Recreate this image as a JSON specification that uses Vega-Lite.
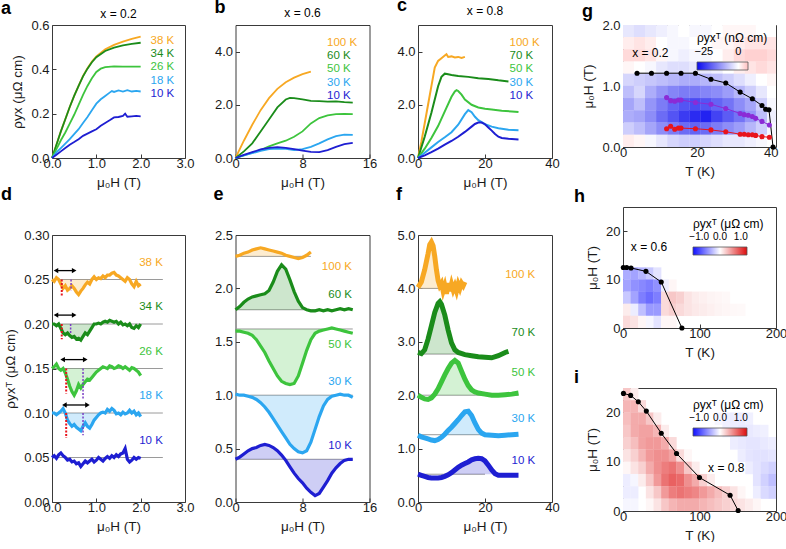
{
"$schema": "https://vega.github.io/schema/vega-lite/v6.json",
"background": "white",
"padding": {"left": 0, "top": -4, "right": 0, "bottom": 0},
"autosize": {"type": "pad"},
"config": {
 "font": "Liberation Sans",
 "view": {"stroke": "#3a3a3a", "strokeWidth": 1},
 "axis": {"domain": false, "grid": false, "tickColor": "#3a3a3a", "tickSize": -4, "labelPadding": 7, "labelFontSize": 13, "titleFontSize": 13.5, "titleFontWeight": "normal", "labelColor": "#1a1a1a", "titleColor": "#1a1a1a", "labelFlush": false, "labelOverlap": false, "labelBound": false, "titlePadding": 6},
 "axisX": {"labelPadding": 3, "titlePadding": 5},
 "legend": {"labelFont": "Liberation Sans", "titleFont": "Liberation Sans", "labelOverlap": false},
 "title": {"font": "Liberation Sans"},
 "text": {"font": "Liberation Sans"}
},
"datasets": {
 "ca": [
  {"T":"38 K","H":0,"v":0},{"T":"38 K","H":0.1,"v":0.06},{"T":"38 K","H":0.2,"v":0.12},{"T":"38 K","H":0.3,"v":0.175},{"T":"38 K","H":0.4,"v":0.23},{"T":"38 K","H":0.5,"v":0.28},{"T":"38 K","H":0.6,"v":0.325},{"T":"38 K","H":0.7,"v":0.37},{"T":"38 K","H":0.8,"v":0.405},{"T":"38 K","H":0.9,"v":0.435},{"T":"38 K","H":1.0,"v":0.458},{"T":"38 K","H":1.2,"v":0.49},{"T":"38 K","H":1.4,"v":0.51},{"T":"38 K","H":1.6,"v":0.525},{"T":"38 K","H":1.8,"v":0.537},{"T":"38 K","H":2.0,"v":0.547},
  {"T":"34 K","H":0,"v":0},{"T":"34 K","H":0.1,"v":0.06},{"T":"34 K","H":0.2,"v":0.12},{"T":"34 K","H":0.3,"v":0.175},{"T":"34 K","H":0.4,"v":0.23},{"T":"34 K","H":0.5,"v":0.28},{"T":"34 K","H":0.6,"v":0.325},{"T":"34 K","H":0.7,"v":0.368},{"T":"34 K","H":0.8,"v":0.403},{"T":"34 K","H":0.9,"v":0.432},{"T":"34 K","H":1.0,"v":0.455},{"T":"34 K","H":1.2,"v":0.483},{"T":"34 K","H":1.4,"v":0.498},{"T":"34 K","H":1.6,"v":0.508},{"T":"34 K","H":1.8,"v":0.515},{"T":"34 K","H":2.0,"v":0.52},
  {"T":"26 K","H":0,"v":0},{"T":"26 K","H":0.1,"v":0.04},{"T":"26 K","H":0.2,"v":0.08},{"T":"26 K","H":0.3,"v":0.115},{"T":"26 K","H":0.4,"v":0.155},{"T":"26 K","H":0.5,"v":0.195},{"T":"26 K","H":0.6,"v":0.24},{"T":"26 K","H":0.7,"v":0.285},{"T":"26 K","H":0.8,"v":0.325},{"T":"26 K","H":0.9,"v":0.36},{"T":"26 K","H":1.0,"v":0.388},{"T":"26 K","H":1.1,"v":0.403},{"T":"26 K","H":1.2,"v":0.41},{"T":"26 K","H":1.4,"v":0.413},{"T":"26 K","H":1.6,"v":0.412},{"T":"26 K","H":1.8,"v":0.412},{"T":"26 K","H":2.0,"v":0.412},
  {"T":"18 K","H":0,"v":0},{"T":"18 K","H":0.1,"v":0.025},{"T":"18 K","H":0.2,"v":0.045},{"T":"18 K","H":0.3,"v":0.065},{"T":"18 K","H":0.4,"v":0.085},{"T":"18 K","H":0.5,"v":0.108},{"T":"18 K","H":0.6,"v":0.13},{"T":"18 K","H":0.7,"v":0.158},{"T":"18 K","H":0.8,"v":0.185},{"T":"18 K","H":0.9,"v":0.215},{"T":"18 K","H":1.0,"v":0.245},{"T":"18 K","H":1.1,"v":0.265},{"T":"18 K","H":1.2,"v":0.28},{"T":"18 K","H":1.3,"v":0.295},{"T":"18 K","H":1.35,"v":0.302},{"T":"18 K","H":1.4,"v":0.298},{"T":"18 K","H":1.5,"v":0.305},{"T":"18 K","H":1.6,"v":0.3},{"T":"18 K","H":1.7,"v":0.306},{"T":"18 K","H":1.8,"v":0.3},{"T":"18 K","H":1.9,"v":0.303},{"T":"18 K","H":2.0,"v":0.3},
  {"T":"10 K","H":0,"v":0},{"T":"10 K","H":0.1,"v":0.015},{"T":"10 K","H":0.2,"v":0.03},{"T":"10 K","H":0.3,"v":0.045},{"T":"10 K","H":0.4,"v":0.06},{"T":"10 K","H":0.5,"v":0.072},{"T":"10 K","H":0.6,"v":0.085},{"T":"10 K","H":0.7,"v":0.1},{"T":"10 K","H":0.8,"v":0.11},{"T":"10 K","H":0.9,"v":0.12},{"T":"10 K","H":1.0,"v":0.13},{"T":"10 K","H":1.1,"v":0.145},{"T":"10 K","H":1.2,"v":0.158},{"T":"10 K","H":1.3,"v":0.17},{"T":"10 K","H":1.4,"v":0.183},{"T":"10 K","H":1.5,"v":0.185},{"T":"10 K","H":1.6,"v":0.19},{"T":"10 K","H":1.65,"v":0.2},{"T":"10 K","H":1.7,"v":0.186},{"T":"10 K","H":1.8,"v":0.188},{"T":"10 K","H":1.9,"v":0.19},{"T":"10 K","H":2.0,"v":0.188}
 ],
 "cb": [
  {"T":"100 K","H":0,"v":0},{"T":"100 K","H":1,"v":0.65},{"T":"100 K","H":2,"v":1.25},{"T":"100 K","H":3,"v":1.8},{"T":"100 K","H":4,"v":2.25},{"T":"100 K","H":5,"v":2.6},{"T":"100 K","H":6,"v":2.85},{"T":"100 K","H":7,"v":3.02},{"T":"100 K","H":8,"v":3.15},{"T":"100 K","H":9,"v":3.25},
  {"T":"60 K","H":0,"v":0},{"T":"60 K","H":1,"v":0.25},{"T":"60 K","H":2,"v":0.55},{"T":"60 K","H":3,"v":1.0},{"T":"60 K","H":4,"v":1.45},{"T":"60 K","H":5,"v":1.9},{"T":"60 K","H":6,"v":2.2},{"T":"60 K","H":6.5,"v":2.26},{"T":"60 K","H":7,"v":2.25},{"T":"60 K","H":8,"v":2.2},{"T":"60 K","H":9,"v":2.15},{"T":"60 K","H":10,"v":2.14},{"T":"60 K","H":11,"v":2.12},{"T":"60 K","H":12,"v":2.13},{"T":"60 K","H":13,"v":2.1},{"T":"60 K","H":14,"v":2.08},
  {"T":"50 K","H":0,"v":0},{"T":"50 K","H":1,"v":0.1},{"T":"50 K","H":2,"v":0.2},{"T":"50 K","H":3,"v":0.3},{"T":"50 K","H":4,"v":0.44},{"T":"50 K","H":5,"v":0.55},{"T":"50 K","H":6,"v":0.65},{"T":"50 K","H":7,"v":0.8},{"T":"50 K","H":8,"v":1.0},{"T":"50 K","H":9,"v":1.3},{"T":"50 K","H":10,"v":1.5},{"T":"50 K","H":11,"v":1.6},{"T":"50 K","H":12,"v":1.65},{"T":"50 K","H":13,"v":1.66},{"T":"50 K","H":14,"v":1.65},
  {"T":"30 K","H":0,"v":0},{"T":"30 K","H":1,"v":0.1},{"T":"30 K","H":2,"v":0.18},{"T":"30 K","H":3,"v":0.27},{"T":"30 K","H":4,"v":0.33},{"T":"30 K","H":5,"v":0.35},{"T":"30 K","H":6,"v":0.34},{"T":"30 K","H":7,"v":0.3},{"T":"30 K","H":8,"v":0.33},{"T":"30 K","H":9,"v":0.42},{"T":"30 K","H":10,"v":0.55},{"T":"30 K","H":11,"v":0.7},{"T":"30 K","H":12,"v":0.82},{"T":"30 K","H":13,"v":0.88},{"T":"30 K","H":14,"v":0.87},
  {"T":"10 K","H":0,"v":0},{"T":"10 K","H":1,"v":0.12},{"T":"10 K","H":2,"v":0.22},{"T":"10 K","H":3,"v":0.32},{"T":"10 K","H":4,"v":0.38},{"T":"10 K","H":5,"v":0.41},{"T":"10 K","H":6,"v":0.38},{"T":"10 K","H":7,"v":0.33},{"T":"10 K","H":8,"v":0.28},{"T":"10 K","H":9,"v":0.23},{"T":"10 K","H":10,"v":0.22},{"T":"10 K","H":11,"v":0.3},{"T":"10 K","H":12,"v":0.42},{"T":"10 K","H":13,"v":0.52},{"T":"10 K","H":14,"v":0.57}
 ],
 "cc": [
  {"T":"100 K","H":0,"v":0},{"T":"100 K","H":1,"v":0.6},{"T":"100 K","H":2,"v":1.3},{"T":"100 K","H":3,"v":2.0},{"T":"100 K","H":4,"v":2.7},{"T":"100 K","H":5,"v":3.4},{"T":"100 K","H":6,"v":3.65},{"T":"100 K","H":7,"v":3.75},{"T":"100 K","H":8,"v":3.85},{"T":"100 K","H":8.5,"v":3.9},{"T":"100 K","H":9,"v":3.8},{"T":"100 K","H":10,"v":3.82},{"T":"100 K","H":11,"v":3.78},{"T":"100 K","H":12,"v":3.8},{"T":"100 K","H":13,"v":3.76},{"T":"100 K","H":14,"v":3.8},
  {"T":"70 K","H":0,"v":0},{"T":"70 K","H":2,"v":0.8},{"T":"70 K","H":4,"v":1.7},{"T":"70 K","H":6,"v":2.7},{"T":"70 K","H":7,"v":3.05},{"T":"70 K","H":8,"v":3.17},{"T":"70 K","H":9,"v":3.15},{"T":"70 K","H":10,"v":3.12},{"T":"70 K","H":12,"v":3.08},{"T":"70 K","H":15,"v":3.05},{"T":"70 K","H":18,"v":3.0},{"T":"70 K","H":21,"v":2.97},{"T":"70 K","H":24,"v":2.92},{"T":"70 K","H":27,"v":2.88},
  {"T":"50 K","H":0,"v":0},{"T":"50 K","H":2,"v":0.35},{"T":"50 K","H":4,"v":0.75},{"T":"50 K","H":6,"v":1.2},{"T":"50 K","H":8,"v":1.75},{"T":"50 K","H":10,"v":2.3},{"T":"50 K","H":11,"v":2.5},{"T":"50 K","H":11.5,"v":2.55},{"T":"50 K","H":12,"v":2.52},{"T":"50 K","H":13,"v":2.38},{"T":"50 K","H":14,"v":2.2},{"T":"50 K","H":16,"v":2.0},{"T":"50 K","H":18,"v":1.9},{"T":"50 K","H":20,"v":1.85},{"T":"50 K","H":22,"v":1.82},{"T":"50 K","H":25,"v":1.78},{"T":"50 K","H":28,"v":1.75},{"T":"50 K","H":30,"v":1.73},
  {"T":"30 K","H":0,"v":0},{"T":"30 K","H":2,"v":0.2},{"T":"30 K","H":4,"v":0.4},{"T":"30 K","H":6,"v":0.6},{"T":"30 K","H":8,"v":0.78},{"T":"30 K","H":10,"v":0.97},{"T":"30 K","H":12,"v":1.25},{"T":"30 K","H":14,"v":1.65},{"T":"30 K","H":15,"v":1.8},{"T":"30 K","H":16,"v":1.72},{"T":"30 K","H":17,"v":1.55},{"T":"30 K","H":18,"v":1.42},{"T":"30 K","H":20,"v":1.27},{"T":"30 K","H":22,"v":1.18},{"T":"30 K","H":24,"v":1.12},{"T":"30 K","H":27,"v":1.06},{"T":"30 K","H":30,"v":1.04},
  {"T":"10 K","H":0,"v":0},{"T":"10 K","H":2,"v":0.1},{"T":"10 K","H":4,"v":0.22},{"T":"10 K","H":6,"v":0.35},{"T":"10 K","H":8,"v":0.5},{"T":"10 K","H":10,"v":0.64},{"T":"10 K","H":12,"v":0.8},{"T":"10 K","H":14,"v":0.98},{"T":"10 K","H":16,"v":1.18},{"T":"10 K","H":17,"v":1.28},{"T":"10 K","H":18,"v":1.33},{"T":"10 K","H":19,"v":1.33},{"T":"10 K","H":20,"v":1.27},{"T":"10 K","H":21,"v":1.15},{"T":"10 K","H":22,"v":1.03},{"T":"10 K","H":23,"v":0.9},{"T":"10 K","H":24,"v":0.8},{"T":"10 K","H":25,"v":0.75},{"T":"10 K","H":27,"v":0.72},{"T":"10 K","H":30,"v":0.7}
 ],
 "cd": [
  {"T":"38 K","H":0,"v":0.25},{"T":"38 K","H":0.05,"v":0.248},{"T":"38 K","H":0.1,"v":0.252},{"T":"38 K","H":0.15,"v":0.25},{"T":"38 K","H":0.2,"v":0.245},{"T":"38 K","H":0.25,"v":0.24},{"T":"38 K","H":0.3,"v":0.243},{"T":"38 K","H":0.35,"v":0.238},{"T":"38 K","H":0.4,"v":0.24},{"T":"38 K","H":0.45,"v":0.243},{"T":"38 K","H":0.5,"v":0.24},{"T":"38 K","H":0.55,"v":0.236},{"T":"38 K","H":0.6,"v":0.233},{"T":"38 K","H":0.65,"v":0.237},{"T":"38 K","H":0.7,"v":0.24},{"T":"38 K","H":0.75,"v":0.244},{"T":"38 K","H":0.8,"v":0.247},{"T":"38 K","H":0.85,"v":0.245},{"T":"38 K","H":0.9,"v":0.25},{"T":"38 K","H":0.95,"v":0.253},{"T":"38 K","H":1.0,"v":0.25},{"T":"38 K","H":1.05,"v":0.252},{"T":"38 K","H":1.1,"v":0.251},{"T":"38 K","H":1.15,"v":0.254},{"T":"38 K","H":1.2,"v":0.252},{"T":"38 K","H":1.25,"v":0.255},{"T":"38 K","H":1.3,"v":0.255},{"T":"38 K","H":1.35,"v":0.257},{"T":"38 K","H":1.4,"v":0.258},{"T":"38 K","H":1.45,"v":0.255},{"T":"38 K","H":1.5,"v":0.254},{"T":"38 K","H":1.55,"v":0.252},{"T":"38 K","H":1.6,"v":0.25},{"T":"38 K","H":1.65,"v":0.248},{"T":"38 K","H":1.7,"v":0.252},{"T":"38 K","H":1.75,"v":0.25},{"T":"38 K","H":1.8,"v":0.245},{"T":"38 K","H":1.85,"v":0.242},{"T":"38 K","H":1.9,"v":0.248},{"T":"38 K","H":1.95,"v":0.243},{"T":"38 K","H":2.0,"v":0.245},
  {"T":"34 K","H":0,"v":0.2},{"T":"34 K","H":0.05,"v":0.2},{"T":"34 K","H":0.1,"v":0.198},{"T":"34 K","H":0.15,"v":0.2},{"T":"34 K","H":0.2,"v":0.195},{"T":"34 K","H":0.25,"v":0.19},{"T":"34 K","H":0.3,"v":0.188},{"T":"34 K","H":0.35,"v":0.19},{"T":"34 K","H":0.4,"v":0.187},{"T":"34 K","H":0.45,"v":0.185},{"T":"34 K","H":0.5,"v":0.186},{"T":"34 K","H":0.55,"v":0.183},{"T":"34 K","H":0.6,"v":0.184},{"T":"34 K","H":0.65,"v":0.182},{"T":"34 K","H":0.7,"v":0.186},{"T":"34 K","H":0.75,"v":0.19},{"T":"34 K","H":0.8,"v":0.188},{"T":"34 K","H":0.85,"v":0.192},{"T":"34 K","H":0.9,"v":0.196},{"T":"34 K","H":0.95,"v":0.2},{"T":"34 K","H":1.0,"v":0.2},{"T":"34 K","H":1.05,"v":0.201},{"T":"34 K","H":1.1,"v":0.2},{"T":"34 K","H":1.15,"v":0.202},{"T":"34 K","H":1.2,"v":0.203},{"T":"34 K","H":1.25,"v":0.202},{"T":"34 K","H":1.3,"v":0.204},{"T":"34 K","H":1.35,"v":0.203},{"T":"34 K","H":1.4,"v":0.202},{"T":"34 K","H":1.45,"v":0.203},{"T":"34 K","H":1.5,"v":0.2},{"T":"34 K","H":1.55,"v":0.202},{"T":"34 K","H":1.6,"v":0.199},{"T":"34 K","H":1.65,"v":0.2},{"T":"34 K","H":1.7,"v":0.198},{"T":"34 K","H":1.75,"v":0.2},{"T":"34 K","H":1.8,"v":0.196},{"T":"34 K","H":1.85,"v":0.195},{"T":"34 K","H":1.9,"v":0.198},{"T":"34 K","H":1.95,"v":0.196},{"T":"34 K","H":2.0,"v":0.2},
  {"T":"26 K","H":0,"v":0.15},{"T":"26 K","H":0.05,"v":0.152},{"T":"26 K","H":0.1,"v":0.155},{"T":"26 K","H":0.15,"v":0.15},{"T":"26 K","H":0.2,"v":0.148},{"T":"26 K","H":0.25,"v":0.15},{"T":"26 K","H":0.3,"v":0.145},{"T":"26 K","H":0.35,"v":0.138},{"T":"26 K","H":0.4,"v":0.13},{"T":"26 K","H":0.45,"v":0.124},{"T":"26 K","H":0.5,"v":0.12},{"T":"26 K","H":0.55,"v":0.125},{"T":"26 K","H":0.6,"v":0.132},{"T":"26 K","H":0.65,"v":0.128},{"T":"26 K","H":0.7,"v":0.132},{"T":"26 K","H":0.75,"v":0.135},{"T":"26 K","H":0.8,"v":0.138},{"T":"26 K","H":0.85,"v":0.137},{"T":"26 K","H":0.9,"v":0.14},{"T":"26 K","H":0.95,"v":0.143},{"T":"26 K","H":1.0,"v":0.146},{"T":"26 K","H":1.05,"v":0.148},{"T":"26 K","H":1.1,"v":0.15},{"T":"26 K","H":1.15,"v":0.152},{"T":"26 K","H":1.2,"v":0.151},{"T":"26 K","H":1.25,"v":0.15},{"T":"26 K","H":1.3,"v":0.153},{"T":"26 K","H":1.35,"v":0.152},{"T":"26 K","H":1.4,"v":0.15},{"T":"26 K","H":1.45,"v":0.151},{"T":"26 K","H":1.5,"v":0.153},{"T":"26 K","H":1.55,"v":0.152},{"T":"26 K","H":1.6,"v":0.15},{"T":"26 K","H":1.65,"v":0.152},{"T":"26 K","H":1.7,"v":0.15},{"T":"26 K","H":1.75,"v":0.148},{"T":"26 K","H":1.8,"v":0.151},{"T":"26 K","H":1.85,"v":0.15},{"T":"26 K","H":1.9,"v":0.148},{"T":"26 K","H":1.95,"v":0.146},{"T":"26 K","H":2.0,"v":0.142},
  {"T":"18 K","H":0,"v":0.1},{"T":"18 K","H":0.05,"v":0.1},{"T":"18 K","H":0.1,"v":0.098},{"T":"18 K","H":0.15,"v":0.1},{"T":"18 K","H":0.2,"v":0.102},{"T":"18 K","H":0.25,"v":0.105},{"T":"18 K","H":0.3,"v":0.1},{"T":"18 K","H":0.35,"v":0.092},{"T":"18 K","H":0.4,"v":0.088},{"T":"18 K","H":0.45,"v":0.085},{"T":"18 K","H":0.5,"v":0.087},{"T":"18 K","H":0.55,"v":0.084},{"T":"18 K","H":0.6,"v":0.082},{"T":"18 K","H":0.65,"v":0.08},{"T":"18 K","H":0.7,"v":0.085},{"T":"18 K","H":0.75,"v":0.089},{"T":"18 K","H":0.8,"v":0.085},{"T":"18 K","H":0.85,"v":0.083},{"T":"18 K","H":0.9,"v":0.087},{"T":"18 K","H":0.95,"v":0.092},{"T":"18 K","H":1.0,"v":0.095},{"T":"18 K","H":1.05,"v":0.098},{"T":"18 K","H":1.1,"v":0.1},{"T":"18 K","H":1.15,"v":0.101},{"T":"18 K","H":1.2,"v":0.1},{"T":"18 K","H":1.25,"v":0.104},{"T":"18 K","H":1.3,"v":0.102},{"T":"18 K","H":1.35,"v":0.105},{"T":"18 K","H":1.4,"v":0.103},{"T":"18 K","H":1.45,"v":0.099},{"T":"18 K","H":1.5,"v":0.1},{"T":"18 K","H":1.55,"v":0.098},{"T":"18 K","H":1.6,"v":0.101},{"T":"18 K","H":1.65,"v":0.099},{"T":"18 K","H":1.7,"v":0.1},{"T":"18 K","H":1.75,"v":0.103},{"T":"18 K","H":1.8,"v":0.1},{"T":"18 K","H":1.85,"v":0.102},{"T":"18 K","H":1.9,"v":0.098},{"T":"18 K","H":1.95,"v":0.1},{"T":"18 K","H":2.0,"v":0.096},
  {"T":"10 K","H":0,"v":0.05},{"T":"10 K","H":0.05,"v":0.052},{"T":"10 K","H":0.1,"v":0.049},{"T":"10 K","H":0.15,"v":0.053},{"T":"10 K","H":0.2,"v":0.055},{"T":"10 K","H":0.25,"v":0.052},{"T":"10 K","H":0.3,"v":0.05},{"T":"10 K","H":0.35,"v":0.047},{"T":"10 K","H":0.4,"v":0.048},{"T":"10 K","H":0.45,"v":0.045},{"T":"10 K","H":0.5,"v":0.046},{"T":"10 K","H":0.55,"v":0.043},{"T":"10 K","H":0.6,"v":0.044},{"T":"10 K","H":0.65,"v":0.04},{"T":"10 K","H":0.7,"v":0.043},{"T":"10 K","H":0.75,"v":0.046},{"T":"10 K","H":0.8,"v":0.044},{"T":"10 K","H":0.85,"v":0.046},{"T":"10 K","H":0.9,"v":0.048},{"T":"10 K","H":0.95,"v":0.045},{"T":"10 K","H":1.0,"v":0.047},{"T":"10 K","H":1.05,"v":0.05},{"T":"10 K","H":1.1,"v":0.048},{"T":"10 K","H":1.15,"v":0.046},{"T":"10 K","H":1.2,"v":0.049},{"T":"10 K","H":1.25,"v":0.051},{"T":"10 K","H":1.3,"v":0.049},{"T":"10 K","H":1.35,"v":0.052},{"T":"10 K","H":1.4,"v":0.05},{"T":"10 K","H":1.45,"v":0.053},{"T":"10 K","H":1.5,"v":0.051},{"T":"10 K","H":1.55,"v":0.054},{"T":"10 K","H":1.6,"v":0.055},{"T":"10 K","H":1.65,"v":0.06},{"T":"10 K","H":1.7,"v":0.048},{"T":"10 K","H":1.75,"v":0.045},{"T":"10 K","H":1.8,"v":0.047},{"T":"10 K","H":1.85,"v":0.05},{"T":"10 K","H":1.9,"v":0.048},{"T":"10 K","H":1.95,"v":0.05},{"T":"10 K","H":2.0,"v":0.049}
 ],
 "bd": [
  {"T":"38 K","base":0.25,"start":0,"end":2.5,"s0":0.2,"s1":0.9},
  {"T":"34 K","base":0.2,"start":0,"end":2.5,"s0":0.2,"s1":0.95},
  {"T":"26 K","base":0.15,"start":0,"end":2.5,"s0":0.3,"s1":1.1},
  {"T":"18 K","base":0.1,"start":0,"end":2.5,"s0":0.3,"s1":1.1},
  {"T":"10 K","base":0.05,"start":0,"end":2.5,"s0":-1,"s1":-1}
 ],
 "md": [
  {"H":0.22,"y1":0.25,"y2":0.232,"k":"r"},{"H":0.43,"y1":0.25,"y2":0.238,"k":"p"},
  {"H":0.22,"y1":0.2,"y2":0.183,"k":"r"},{"H":0.42,"y1":0.2,"y2":0.19,"k":"p"},
  {"H":0.32,"y1":0.15,"y2":0.122,"k":"r"},{"H":0.7,"y1":0.15,"y2":0.115,"k":"p"},
  {"H":0.32,"y1":0.1,"y2":0.072,"k":"r"},{"H":0.7,"y1":0.1,"y2":0.075,"k":"p"}
 ],
 "ad": [
  {"a0":0.09,"a1":0.5,"y":0.26},{"a0":0.09,"a1":0.5,"y":0.21},{"a0":0.24,"a1":0.75,"y":0.16},{"a0":0.28,"a1":0.8,"y":0.109}
 ],
 "ce": [
  {"T":"100 K","H":0,"v":2.3},{"T":"100 K","H":0.5,"v":2.31},{"T":"100 K","H":1,"v":2.33},{"T":"100 K","H":1.5,"v":2.34},{"T":"100 K","H":2,"v":2.36},{"T":"100 K","H":2.5,"v":2.37},{"T":"100 K","H":3,"v":2.38},{"T":"100 K","H":3.5,"v":2.37},{"T":"100 K","H":4,"v":2.36},{"T":"100 K","H":4.5,"v":2.35},{"T":"100 K","H":5,"v":2.34},{"T":"100 K","H":5.5,"v":2.33},{"T":"100 K","H":6,"v":2.31},{"T":"100 K","H":6.5,"v":2.3},{"T":"100 K","H":7,"v":2.29},{"T":"100 K","H":7.5,"v":2.28},{"T":"100 K","H":8,"v":2.29},{"T":"100 K","H":8.5,"v":2.31},{"T":"100 K","H":9,"v":2.34},
  {"T":"60 K","H":0,"v":1.8},{"T":"60 K","H":0.5,"v":1.83},{"T":"60 K","H":1,"v":1.87},{"T":"60 K","H":1.5,"v":1.9},{"T":"60 K","H":2,"v":1.92},{"T":"60 K","H":2.5,"v":1.93},{"T":"60 K","H":3,"v":1.94},{"T":"60 K","H":3.5,"v":1.95},{"T":"60 K","H":4,"v":1.98},{"T":"60 K","H":4.5,"v":2.06},{"T":"60 K","H":5,"v":2.16},{"T":"60 K","H":5.5,"v":2.22},{"T":"60 K","H":6,"v":2.18},{"T":"60 K","H":6.5,"v":2.08},{"T":"60 K","H":7,"v":1.97},{"T":"60 K","H":7.5,"v":1.88},{"T":"60 K","H":8,"v":1.82},{"T":"60 K","H":8.5,"v":1.8},{"T":"60 K","H":9,"v":1.79},{"T":"60 K","H":9.5,"v":1.79},{"T":"60 K","H":10,"v":1.8},{"T":"60 K","H":10.5,"v":1.79},{"T":"60 K","H":11,"v":1.8},{"T":"60 K","H":11.5,"v":1.79},{"T":"60 K","H":12,"v":1.8},{"T":"60 K","H":12.5,"v":1.81},{"T":"60 K","H":13,"v":1.8},{"T":"60 K","H":13.5,"v":1.81},{"T":"60 K","H":14,"v":1.8},
  {"T":"50 K","H":0,"v":1.6},{"T":"50 K","H":0.5,"v":1.6},{"T":"50 K","H":1,"v":1.59},{"T":"50 K","H":1.5,"v":1.58},{"T":"50 K","H":2,"v":1.56},{"T":"50 K","H":2.5,"v":1.52},{"T":"50 K","H":3,"v":1.46},{"T":"50 K","H":3.5,"v":1.4},{"T":"50 K","H":4,"v":1.32},{"T":"50 K","H":4.5,"v":1.25},{"T":"50 K","H":5,"v":1.18},{"T":"50 K","H":5.5,"v":1.13},{"T":"50 K","H":6,"v":1.11},{"T":"50 K","H":6.5,"v":1.1},{"T":"50 K","H":7,"v":1.11},{"T":"50 K","H":7.5,"v":1.18},{"T":"50 K","H":8,"v":1.3},{"T":"50 K","H":8.5,"v":1.42},{"T":"50 K","H":9,"v":1.52},{"T":"50 K","H":9.5,"v":1.58},{"T":"50 K","H":10,"v":1.6},{"T":"50 K","H":10.5,"v":1.61},{"T":"50 K","H":11,"v":1.62},{"T":"50 K","H":11.5,"v":1.63},{"T":"50 K","H":12,"v":1.62},{"T":"50 K","H":12.5,"v":1.61},{"T":"50 K","H":13,"v":1.6},{"T":"50 K","H":13.5,"v":1.59},{"T":"50 K","H":14,"v":1.58},
  {"T":"30 K","H":0,"v":1.01},{"T":"30 K","H":0.5,"v":1.0},{"T":"30 K","H":1,"v":1.0},{"T":"30 K","H":1.5,"v":0.99},{"T":"30 K","H":2,"v":0.98},{"T":"30 K","H":2.5,"v":0.96},{"T":"30 K","H":3,"v":0.93},{"T":"30 K","H":3.5,"v":0.89},{"T":"30 K","H":4,"v":0.84},{"T":"30 K","H":4.5,"v":0.78},{"T":"30 K","H":5,"v":0.72},{"T":"30 K","H":5.5,"v":0.66},{"T":"30 K","H":6,"v":0.6},{"T":"30 K","H":6.5,"v":0.54},{"T":"30 K","H":7,"v":0.5},{"T":"30 K","H":7.5,"v":0.47},{"T":"30 K","H":8,"v":0.46},{"T":"30 K","H":8.5,"v":0.48},{"T":"30 K","H":9,"v":0.56},{"T":"30 K","H":9.5,"v":0.68},{"T":"30 K","H":10,"v":0.8},{"T":"30 K","H":10.5,"v":0.9},{"T":"30 K","H":11,"v":0.96},{"T":"30 K","H":11.5,"v":0.99},{"T":"30 K","H":12,"v":1.0},{"T":"30 K","H":12.5,"v":1.01},{"T":"30 K","H":13,"v":1.0},{"T":"30 K","H":13.5,"v":1.0},{"T":"30 K","H":14,"v":0.98},
  {"T":"10 K","H":0,"v":0.4},{"T":"10 K","H":0.5,"v":0.42},{"T":"10 K","H":1,"v":0.45},{"T":"10 K","H":1.5,"v":0.48},{"T":"10 K","H":2,"v":0.5},{"T":"10 K","H":2.5,"v":0.51},{"T":"10 K","H":3,"v":0.53},{"T":"10 K","H":3.5,"v":0.54},{"T":"10 K","H":4,"v":0.53},{"T":"10 K","H":4.5,"v":0.51},{"T":"10 K","H":5,"v":0.48},{"T":"10 K","H":5.5,"v":0.44},{"T":"10 K","H":6,"v":0.39},{"T":"10 K","H":6.5,"v":0.33},{"T":"10 K","H":7,"v":0.27},{"T":"10 K","H":7.5,"v":0.22},{"T":"10 K","H":8,"v":0.18},{"T":"10 K","H":8.5,"v":0.13},{"T":"10 K","H":9,"v":0.09},{"T":"10 K","H":9.5,"v":0.06},{"T":"10 K","H":10,"v":0.08},{"T":"10 K","H":10.5,"v":0.14},{"T":"10 K","H":11,"v":0.2},{"T":"10 K","H":11.5,"v":0.27},{"T":"10 K","H":12,"v":0.32},{"T":"10 K","H":12.5,"v":0.36},{"T":"10 K","H":13,"v":0.39},{"T":"10 K","H":13.5,"v":0.4},{"T":"10 K","H":14,"v":0.4}
 ],
 "be": [
  {"T":"100 K","base":2.3,"start":0,"end":9,"s0":0,"s1":6.5,"lx":13.9,"ly":2.2},
  {"T":"60 K","base":1.8,"start":0,"end":9.5,"s0":0,"s1":8.5,"lx":13.9,"ly":1.94},
  {"T":"50 K","base":1.62,"start":0,"end":14,"s0":0,"s1":10,"lx":13.9,"ly":1.47},
  {"T":"30 K","base":1.0,"start":0,"end":14,"s0":0,"s1":12.5,"lx":13.9,"ly":1.12},
  {"T":"10 K","base":0.4,"start":0,"end":14,"s0":0,"s1":14,"lx":13.9,"ly":0.52}
 ],
 "cf": [
  {"T":"100 K","H":0,"v":4.02},{"T":"100 K","H":1,"v":4.12},{"T":"100 K","H":2,"v":4.35},{"T":"100 K","H":3,"v":4.65},{"T":"100 K","H":3.5,"v":4.82},{"T":"100 K","H":4,"v":4.87},{"T":"100 K","H":4.5,"v":4.8},{"T":"100 K","H":5,"v":4.6},{"T":"100 K","H":5.5,"v":4.35},{"T":"100 K","H":6,"v":4.15},{"T":"100 K","H":6.5,"v":4.05},{"T":"100 K","H":7,"v":4.1},{"T":"100 K","H":7.5,"v":3.95},{"T":"100 K","H":8,"v":4.05},{"T":"100 K","H":8.5,"v":3.9},{"T":"100 K","H":9,"v":4.1},{"T":"100 K","H":9.5,"v":3.95},{"T":"100 K","H":10,"v":4.08},{"T":"100 K","H":10.5,"v":3.97},{"T":"100 K","H":11,"v":4.05},{"T":"100 K","H":11.5,"v":3.95},{"T":"100 K","H":12,"v":4.08},{"T":"100 K","H":12.5,"v":4.0},{"T":"100 K","H":13,"v":4.1},{"T":"100 K","H":13.5,"v":4.05},{"T":"100 K","H":14,"v":4.12},
  {"T":"70 K","H":0,"v":2.8},{"T":"70 K","H":1,"v":2.78},{"T":"70 K","H":2,"v":2.85},{"T":"70 K","H":3,"v":3.05},{"T":"70 K","H":4,"v":3.3},{"T":"70 K","H":5,"v":3.55},{"T":"70 K","H":6,"v":3.72},{"T":"70 K","H":6.5,"v":3.75},{"T":"70 K","H":7,"v":3.7},{"T":"70 K","H":8,"v":3.5},{"T":"70 K","H":9,"v":3.22},{"T":"70 K","H":10,"v":2.98},{"T":"70 K","H":11,"v":2.85},{"T":"70 K","H":12,"v":2.8},{"T":"70 K","H":14,"v":2.76},{"T":"70 K","H":16,"v":2.74},{"T":"70 K","H":18,"v":2.72},{"T":"70 K","H":20,"v":2.71},{"T":"70 K","H":22,"v":2.7},{"T":"70 K","H":24,"v":2.74},{"T":"70 K","H":26,"v":2.8},{"T":"70 K","H":27,"v":2.82},
  {"T":"50 K","H":0,"v":2.0},{"T":"50 K","H":1,"v":1.96},{"T":"50 K","H":2,"v":1.93},{"T":"50 K","H":3,"v":1.92},{"T":"50 K","H":4,"v":1.95},{"T":"50 K","H":5,"v":2.02},{"T":"50 K","H":6,"v":2.12},{"T":"50 K","H":7,"v":2.25},{"T":"50 K","H":8,"v":2.38},{"T":"50 K","H":9,"v":2.5},{"T":"50 K","H":10,"v":2.6},{"T":"50 K","H":11,"v":2.65},{"T":"50 K","H":12,"v":2.6},{"T":"50 K","H":13,"v":2.45},{"T":"50 K","H":14,"v":2.3},{"T":"50 K","H":15,"v":2.18},{"T":"50 K","H":16,"v":2.1},{"T":"50 K","H":17,"v":2.06},{"T":"50 K","H":18,"v":2.04},{"T":"50 K","H":20,"v":2.02},{"T":"50 K","H":22,"v":2.0},{"T":"50 K","H":24,"v":2.0},{"T":"50 K","H":26,"v":2.01},{"T":"50 K","H":28,"v":2.02},{"T":"50 K","H":30,"v":2.04},
  {"T":"30 K","H":0,"v":1.25},{"T":"30 K","H":1,"v":1.22},{"T":"30 K","H":2,"v":1.2},{"T":"30 K","H":3,"v":1.18},{"T":"30 K","H":4,"v":1.16},{"T":"30 K","H":5,"v":1.15},{"T":"30 K","H":6,"v":1.17},{"T":"30 K","H":7,"v":1.21},{"T":"30 K","H":8,"v":1.27},{"T":"30 K","H":9,"v":1.34},{"T":"30 K","H":10,"v":1.4},{"T":"30 K","H":11,"v":1.47},{"T":"30 K","H":12,"v":1.54},{"T":"30 K","H":13,"v":1.62},{"T":"30 K","H":14,"v":1.69},{"T":"30 K","H":15,"v":1.7},{"T":"30 K","H":16,"v":1.62},{"T":"30 K","H":17,"v":1.48},{"T":"30 K","H":18,"v":1.36},{"T":"30 K","H":19,"v":1.29},{"T":"30 K","H":20,"v":1.26},{"T":"30 K","H":22,"v":1.25},{"T":"30 K","H":24,"v":1.24},{"T":"30 K","H":26,"v":1.25},{"T":"30 K","H":28,"v":1.26},{"T":"30 K","H":30,"v":1.27},
  {"T":"10 K","H":0,"v":0.52},{"T":"10 K","H":1,"v":0.5},{"T":"10 K","H":2,"v":0.48},{"T":"10 K","H":3,"v":0.46},{"T":"10 K","H":4,"v":0.45},{"T":"10 K","H":5,"v":0.45},{"T":"10 K","H":6,"v":0.45},{"T":"10 K","H":7,"v":0.46},{"T":"10 K","H":8,"v":0.48},{"T":"10 K","H":9,"v":0.51},{"T":"10 K","H":10,"v":0.55},{"T":"10 K","H":11,"v":0.6},{"T":"10 K","H":12,"v":0.65},{"T":"10 K","H":13,"v":0.69},{"T":"10 K","H":14,"v":0.72},{"T":"10 K","H":15,"v":0.75},{"T":"10 K","H":16,"v":0.79},{"T":"10 K","H":17,"v":0.81},{"T":"10 K","H":18,"v":0.82},{"T":"10 K","H":19,"v":0.81},{"T":"10 K","H":20,"v":0.77},{"T":"10 K","H":21,"v":0.69},{"T":"10 K","H":22,"v":0.6},{"T":"10 K","H":23,"v":0.53},{"T":"10 K","H":24,"v":0.5},{"T":"10 K","H":26,"v":0.5},{"T":"10 K","H":28,"v":0.5},{"T":"10 K","H":30,"v":0.5}
 ],
 "bf": [
  {"T":"100 K","base":4.0,"start":0,"end":6.5,"s0":0,"s1":6.5,"lx":35,"ly":4.25},
  {"T":"70 K","base":2.77,"start":0,"end":13,"s0":1,"s1":12.5,"lx":35,"ly":3.17},
  {"T":"50 K","base":2.0,"start":0,"end":30,"s0":4.5,"s1":17.5,"lx":35,"ly":2.42},
  {"T":"30 K","base":1.26,"start":0,"end":19.5,"s0":7,"s1":19.5,"lx":35,"ly":1.55},
  {"T":"10 K","base":0.52,"start":0,"end":20,"s0":9,"s1":23,"lx":35,"ly":0.77}
 ],
 "hg": [
  {"T":1.5,"H":1.9,"v":-3},{"T":4.5,"H":1.9,"v":-4},{"T":7.5,"H":1.9,"v":-3},{"T":10.5,"H":1.9,"v":-2},{"T":13.5,"H":1.9,"v":-1},{"T":16.5,"H":1.9,"v":0},{"T":19.5,"H":1.9,"v":-1},{"T":22.5,"H":1.9,"v":-1},{"T":25.5,"H":1.9,"v":0},{"T":28.5,"H":1.9,"v":1},{"T":31.5,"H":1.9,"v":1},{"T":34.5,"H":1.9,"v":1},{"T":37.5,"H":1.9,"v":0},{"T":40.5,"H":1.9,"v":0},
  {"T":1.5,"H":1.7,"v":2},{"T":4.5,"H":1.7,"v":3},{"T":7.5,"H":1.7,"v":2},{"T":10.5,"H":1.7,"v":0},{"T":13.5,"H":1.7,"v":-1},{"T":16.5,"H":1.7,"v":-1},{"T":19.5,"H":1.7,"v":0},{"T":22.5,"H":1.7,"v":0},{"T":25.5,"H":1.7,"v":1},{"T":28.5,"H":1.7,"v":1},{"T":31.5,"H":1.7,"v":2},{"T":34.5,"H":1.7,"v":3},{"T":37.5,"H":1.7,"v":3},{"T":40.5,"H":1.7,"v":3},
  {"T":1.5,"H":1.5,"v":4},{"T":4.5,"H":1.5,"v":4},{"T":7.5,"H":1.5,"v":3},{"T":10.5,"H":1.5,"v":1},{"T":13.5,"H":1.5,"v":-1},{"T":16.5,"H":1.5,"v":-2},{"T":19.5,"H":1.5,"v":-1},{"T":22.5,"H":1.5,"v":-1},{"T":25.5,"H":1.5,"v":0},{"T":28.5,"H":1.5,"v":2},{"T":31.5,"H":1.5,"v":4},{"T":34.5,"H":1.5,"v":5},{"T":37.5,"H":1.5,"v":5},{"T":40.5,"H":1.5,"v":4},
  {"T":1.5,"H":1.3,"v":1},{"T":4.5,"H":1.3,"v":0},{"T":7.5,"H":1.3,"v":-1},{"T":10.5,"H":1.3,"v":-3},{"T":13.5,"H":1.3,"v":-4},{"T":16.5,"H":1.3,"v":-4},{"T":19.5,"H":1.3,"v":-3},{"T":22.5,"H":1.3,"v":-3},{"T":25.5,"H":1.3,"v":-2},{"T":28.5,"H":1.3,"v":0},{"T":31.5,"H":1.3,"v":2},{"T":34.5,"H":1.3,"v":3},{"T":37.5,"H":1.3,"v":4},{"T":40.5,"H":1.3,"v":3},
  {"T":1.5,"H":1.1,"v":-5},{"T":4.5,"H":1.1,"v":-6},{"T":7.5,"H":1.1,"v":-7},{"T":10.5,"H":1.1,"v":-8},{"T":13.5,"H":1.1,"v":-9},{"T":16.5,"H":1.1,"v":-10},{"T":19.5,"H":1.1,"v":-10},{"T":22.5,"H":1.1,"v":-9},{"T":25.5,"H":1.1,"v":-8},{"T":28.5,"H":1.1,"v":-6},{"T":31.5,"H":1.1,"v":-4},{"T":34.5,"H":1.1,"v":-2},{"T":37.5,"H":1.1,"v":0},{"T":40.5,"H":1.1,"v":1},
  {"T":1.5,"H":0.9,"v":-8},{"T":4.5,"H":0.9,"v":-5},{"T":7.5,"H":0.9,"v":-10},{"T":10.5,"H":0.9,"v":-13},{"T":13.5,"H":0.9,"v":-15},{"T":16.5,"H":0.9,"v":-16},{"T":19.5,"H":0.9,"v":-16},{"T":22.5,"H":0.9,"v":-15},{"T":25.5,"H":0.9,"v":-14},{"T":28.5,"H":0.9,"v":-12},{"T":31.5,"H":0.9,"v":-9},{"T":34.5,"H":0.9,"v":-6},{"T":37.5,"H":0.9,"v":-3},{"T":40.5,"H":0.9,"v":0},
  {"T":1.5,"H":0.7,"v":-11},{"T":4.5,"H":0.7,"v":-8},{"T":7.5,"H":0.7,"v":-13},{"T":10.5,"H":0.7,"v":-16},{"T":13.5,"H":0.7,"v":-19},{"T":16.5,"H":0.7,"v":-21},{"T":19.5,"H":0.7,"v":-22},{"T":22.5,"H":0.7,"v":-21},{"T":25.5,"H":0.7,"v":-19},{"T":28.5,"H":0.7,"v":-17},{"T":31.5,"H":0.7,"v":-14},{"T":34.5,"H":0.7,"v":-11},{"T":37.5,"H":0.7,"v":-6},{"T":40.5,"H":0.7,"v":-1},
  {"T":1.5,"H":0.5,"v":-10},{"T":4.5,"H":0.5,"v":-11},{"T":7.5,"H":0.5,"v":-14},{"T":10.5,"H":0.5,"v":-18},{"T":13.5,"H":0.5,"v":-21},{"T":16.5,"H":0.5,"v":-24},{"T":19.5,"H":0.5,"v":-26},{"T":22.5,"H":0.5,"v":-27},{"T":25.5,"H":0.5,"v":-23},{"T":28.5,"H":0.5,"v":-20},{"T":31.5,"H":0.5,"v":-17},{"T":34.5,"H":0.5,"v":-13},{"T":37.5,"H":0.5,"v":-8},{"T":40.5,"H":0.5,"v":-2},
  {"T":1.5,"H":0.3,"v":-6},{"T":4.5,"H":0.3,"v":-8},{"T":7.5,"H":0.3,"v":-11},{"T":10.5,"H":0.3,"v":-14},{"T":13.5,"H":0.3,"v":-16},{"T":16.5,"H":0.3,"v":-18},{"T":19.5,"H":0.3,"v":-19},{"T":22.5,"H":0.3,"v":-18},{"T":25.5,"H":0.3,"v":-16},{"T":28.5,"H":0.3,"v":-14},{"T":31.5,"H":0.3,"v":-12},{"T":34.5,"H":0.3,"v":-9},{"T":37.5,"H":0.3,"v":-6},{"T":40.5,"H":0.3,"v":-1},
  {"T":1.5,"H":0.1,"v":2},{"T":4.5,"H":0.1,"v":1},{"T":7.5,"H":0.1,"v":-1},{"T":10.5,"H":0.1,"v":-3},{"T":13.5,"H":0.1,"v":-5},{"T":16.5,"H":0.1,"v":-6},{"T":19.5,"H":0.1,"v":-6},{"T":22.5,"H":0.1,"v":-5},{"T":25.5,"H":0.1,"v":-4},{"T":28.5,"H":0.1,"v":-3},{"T":31.5,"H":0.1,"v":-3},{"T":34.5,"H":0.1,"v":-2},{"T":37.5,"H":0.1,"v":-1},{"T":40.5,"H":0.1,"v":0}
 ],
 "lg": [
  {"c":"k","T":3.8,"H":1.21},{"c":"k","T":7.7,"H":1.21},{"c":"k","T":11.8,"H":1.21},{"c":"k","T":15.7,"H":1.21},{"c":"k","T":19.6,"H":1.21},{"c":"k","T":23.8,"H":1.11},{"c":"k","T":27.8,"H":1.05},{"c":"k","T":31.7,"H":0.9},{"c":"k","T":35,"H":0.79},{"c":"k","T":37.6,"H":0.68},{"c":"k","T":38.6,"H":0.62},{"c":"k","T":39.5,"H":0.61},{"c":"k","T":40.6,"H":0.0},
  {"c":"p","T":11.8,"H":0.81},{"c":"p","T":12.9,"H":0.76},{"c":"p","T":14,"H":0.75},{"c":"p","T":15,"H":0.77},{"c":"p","T":15.7,"H":0.77},{"c":"p","T":19.6,"H":0.73},{"c":"p","T":23.8,"H":0.7},{"c":"p","T":27.8,"H":0.63},{"c":"p","T":31.7,"H":0.55},{"c":"p","T":32.8,"H":0.53},{"c":"p","T":33.9,"H":0.52},{"c":"p","T":35,"H":0.5},{"c":"p","T":35.9,"H":0.47},{"c":"p","T":37.6,"H":0.42},{"c":"p","T":39.6,"H":0.36},
  {"c":"r","T":11.8,"H":0.3},{"c":"r","T":12.9,"H":0.34},{"c":"r","T":14,"H":0.29},{"c":"r","T":15,"H":0.31},{"c":"r","T":15.7,"H":0.31},{"c":"r","T":19.6,"H":0.3},{"c":"r","T":23.8,"H":0.28},{"c":"r","T":27.8,"H":0.25},{"c":"r","T":31.7,"H":0.21},{"c":"r","T":32.8,"H":0.21},{"c":"r","T":33.9,"H":0.2},{"c":"r","T":35,"H":0.2},{"c":"r","T":35.9,"H":0.19},{"c":"r","T":37.6,"H":0.17},{"c":"r","T":39.6,"H":0.16}
 ],
 "hh": [
  {"T":5,"H":11.25,"v":-0.45},{"T":15,"H":11.25,"v":-0.5},{"T":25,"H":11.25,"v":-0.4},{"T":35,"H":11.25,"v":-0.3},{"T":45,"H":11.25,"v":-0.15},
  {"T":5,"H":8.75,"v":-0.5},{"T":15,"H":8.75,"v":-0.6},{"T":25,"H":8.75,"v":-0.65},{"T":35,"H":8.75,"v":-0.7},{"T":45,"H":8.75,"v":-0.6},{"T":55,"H":8.75,"v":-0.1},{"T":65,"H":8.75,"v":0.05},
  {"T":5,"H":6.25,"v":-0.3},{"T":15,"H":6.25,"v":-0.5},{"T":25,"H":6.25,"v":-0.7},{"T":35,"H":6.25,"v":-0.8},{"T":45,"H":6.25,"v":-0.7},{"T":55,"H":6.25,"v":0.2},{"T":65,"H":6.25,"v":0.3},{"T":75,"H":6.25,"v":0.25},{"T":85,"H":6.25,"v":0.15},{"T":95,"H":6.25,"v":0.1},{"T":105,"H":6.25,"v":0.08},{"T":115,"H":6.25,"v":0.06},{"T":125,"H":6.25,"v":0.05},{"T":135,"H":6.25,"v":0.04},
  {"T":5,"H":3.75,"v":0.1},{"T":15,"H":3.75,"v":-0.1},{"T":25,"H":3.75,"v":-0.35},{"T":35,"H":3.75,"v":-0.55},{"T":45,"H":3.75,"v":-0.55},{"T":55,"H":3.75,"v":0.2},{"T":65,"H":3.75,"v":0.25},{"T":75,"H":3.75,"v":0.2},{"T":85,"H":3.75,"v":0.15},{"T":95,"H":3.75,"v":0.12},{"T":105,"H":3.75,"v":0.1},{"T":115,"H":3.75,"v":0.08},{"T":125,"H":3.75,"v":0.06},{"T":135,"H":3.75,"v":0.05},{"T":145,"H":3.75,"v":0.04},{"T":155,"H":3.75,"v":0.03},
  {"T":5,"H":1.25,"v":0.2},{"T":15,"H":1.25,"v":0.15},{"T":25,"H":1.25,"v":0.05},{"T":35,"H":1.25,"v":-0.05},{"T":45,"H":1.25,"v":-0.15},{"T":55,"H":1.25,"v":0.05},{"T":65,"H":1.25,"v":0.05}
 ],
 "lh": [
  {"T":0.4,"H":12.5},{"T":4.8,"H":12.5},{"T":10.5,"H":12.4},{"T":30,"H":11.7},{"T":50,"H":9.5},{"T":77,"H":0}
 ],
 "hi": [
  {"T":5,"H":23.75,"v":0.3},{"T":15,"H":23.75,"v":0.1},
  {"T":5,"H":21.25,"v":0.4},{"T":15,"H":21.25,"v":0.4},{"T":25,"H":21.25,"v":0.2},
  {"T":5,"H":18.75,"v":0.35},{"T":15,"H":18.75,"v":0.45},{"T":25,"H":18.75,"v":0.45},{"T":35,"H":18.75,"v":0.3},{"T":45,"H":18.75,"v":0.1},{"T":125,"H":18.75,"v":-0.05},{"T":135,"H":18.75,"v":-0.08},{"T":145,"H":18.75,"v":-0.1},{"T":155,"H":18.75,"v":-0.1},{"T":165,"H":18.75,"v":-0.08},
  {"T":5,"H":16.25,"v":0.3},{"T":15,"H":16.25,"v":0.45},{"T":25,"H":16.25,"v":0.5},{"T":35,"H":16.25,"v":0.5},{"T":45,"H":16.25,"v":0.4},{"T":55,"H":16.25,"v":0.1},{"T":135,"H":16.25,"v":-0.08},{"T":145,"H":16.25,"v":-0.1},{"T":155,"H":16.25,"v":-0.12},{"T":165,"H":16.25,"v":-0.12},{"T":175,"H":16.25,"v":-0.1},{"T":185,"H":16.25,"v":-0.08},
  {"T":5,"H":13.75,"v":0.25},{"T":15,"H":13.75,"v":0.35},{"T":25,"H":13.75,"v":0.5},{"T":35,"H":13.75,"v":0.55},{"T":45,"H":13.75,"v":0.55},{"T":55,"H":13.75,"v":0.45},{"T":65,"H":13.75,"v":0.2},{"T":145,"H":13.75,"v":-0.1},{"T":155,"H":13.75,"v":-0.12},{"T":165,"H":13.75,"v":-0.14},{"T":175,"H":13.75,"v":-0.14},{"T":185,"H":13.75,"v":-0.12},{"T":195,"H":13.75,"v":-0.1},
  {"T":5,"H":11.25,"v":0.15},{"T":15,"H":11.25,"v":0.25},{"T":25,"H":11.25,"v":0.4},{"T":35,"H":11.25,"v":0.55},{"T":45,"H":11.25,"v":0.6},{"T":55,"H":11.25,"v":0.6},{"T":65,"H":11.25,"v":0.5},{"T":75,"H":11.25,"v":0.2},{"T":85,"H":11.25,"v":0.05},{"T":155,"H":11.25,"v":-0.1},{"T":165,"H":11.25,"v":-0.14},{"T":175,"H":11.25,"v":-0.16},{"T":185,"H":11.25,"v":-0.16},{"T":195,"H":11.25,"v":-0.14},
  {"T":5,"H":8.75,"v":0.05},{"T":15,"H":8.75,"v":0.15},{"T":25,"H":8.75,"v":0.25},{"T":35,"H":8.75,"v":0.45},{"T":45,"H":8.75,"v":0.6},{"T":55,"H":8.75,"v":0.7},{"T":65,"H":8.75,"v":0.75},{"T":75,"H":8.75,"v":0.6},{"T":85,"H":8.75,"v":0.3},{"T":95,"H":8.75,"v":0.1},{"T":165,"H":8.75,"v":-0.1},{"T":175,"H":8.75,"v":-0.15},{"T":185,"H":8.75,"v":-0.2},{"T":195,"H":8.75,"v":-0.25},
  {"T":5,"H":6.25,"v":-0.1},{"T":15,"H":6.25,"v":-0.05},{"T":25,"H":6.25,"v":0.1},{"T":35,"H":6.25,"v":0.3},{"T":45,"H":6.25,"v":0.55},{"T":55,"H":6.25,"v":0.75},{"T":65,"H":6.25,"v":0.85},{"T":75,"H":6.25,"v":0.8},{"T":85,"H":6.25,"v":0.6},{"T":95,"H":6.25,"v":0.45},{"T":105,"H":6.25,"v":0.25},{"T":115,"H":6.25,"v":0.1},{"T":175,"H":6.25,"v":-0.15},{"T":185,"H":6.25,"v":-0.25},{"T":195,"H":6.25,"v":-0.35},
  {"T":5,"H":3.75,"v":-0.1},{"T":15,"H":3.75,"v":-0.1},{"T":35,"H":3.75,"v":0.15},{"T":45,"H":3.75,"v":0.3},{"T":55,"H":3.75,"v":0.55},{"T":65,"H":3.75,"v":0.7},{"T":75,"H":3.75,"v":0.75},{"T":85,"H":3.75,"v":0.7},{"T":95,"H":3.75,"v":0.65},{"T":105,"H":3.75,"v":0.55},{"T":115,"H":3.75,"v":0.45},{"T":125,"H":3.75,"v":0.35},{"T":135,"H":3.75,"v":0.25},{"T":145,"H":3.75,"v":0.15},{"T":155,"H":3.75,"v":0.05},{"T":175,"H":3.75,"v":-0.1},{"T":185,"H":3.75,"v":-0.2},{"T":195,"H":3.75,"v":-0.25},
  {"T":5,"H":1.25,"v":-0.05},{"T":15,"H":1.25,"v":-0.05},{"T":35,"H":1.25,"v":0.05},{"T":45,"H":1.25,"v":0.15},{"T":55,"H":1.25,"v":0.3},{"T":65,"H":1.25,"v":0.4},{"T":75,"H":1.25,"v":0.45},{"T":85,"H":1.25,"v":0.45},{"T":95,"H":1.25,"v":0.45},{"T":105,"H":1.25,"v":0.4},{"T":115,"H":1.25,"v":0.35},{"T":125,"H":1.25,"v":0.3},{"T":135,"H":1.25,"v":0.25},{"T":145,"H":1.25,"v":0.2},{"T":155,"H":1.25,"v":0.15},{"T":165,"H":1.25,"v":0.1},{"T":175,"H":1.25,"v":0.05}
 ],
 "li": [
  {"T":0.6,"H":23.9},{"T":10,"H":23.5},{"T":20,"H":22.2},{"T":30.5,"H":20.3},{"T":50,"H":15.8},{"T":70,"H":11.7},{"T":100,"H":6.8},{"T":140,"H":3.2},{"T":150.5,"H":0.1}
 ]
},
"hconcat": [
 {"hconcat": [
   {"vconcat": [
     {"width": 133, "height": 133,
      "title": {"text": "a", "anchor": "start", "frame": "group", "dx": -51, "offset": -24, "baseline": "alphabetic", "fontSize": 18, "fontWeight": "bold"},
      "layer": [
        {"data": {"name": "ca"}, "mark": {"type": "line", "strokeWidth": 1.8},
         "encoding": {
           "x": {"field": "H", "type": "quantitative", "scale": {"domain": [0, 3], "nice": false}, "axis": {"title": "μ₀H (T)", "values": [0, 0.5, 1, 1.5, 2, 2.5, 3], "labelExpr": "datum.value % 1 == 0 ? format(datum.value, '.1f') : ''"}},
           "y": {"field": "v", "type": "quantitative", "scale": {"domain": [0, 0.6], "nice": false}, "axis": {"title": "ρyx (μΩ cm)", "values": [0, 0.1, 0.2, 0.3, 0.4, 0.5, 0.6], "format": ".1f"}},
           "color": {"field": "T", "type": "nominal", "sort": null, "scale": {"domain": ["38 K", "34 K", "26 K", "18 K", "10 K"], "range": ["#F7A823", "#1A8C1A", "#3DC43D", "#2BA6F0", "#1E1ED2"]},
             "legend": {"orient": "top-right", "title": null, "offset": 10, "padding": 0, "rowPadding": 0.3, "labelFontSize": 11.5, "labelOffset": 0, "symbolSize": 0, "symbolOpacity": 0, "symbolStrokeWidth": 0,
               "labelColor": {"expr": "indexof(['38 K','100 K'], datum.label) >= 0 ? '#F7A823' : indexof(['34 K','60 K','70 K'], datum.label) >= 0 ? '#1A8C1A' : indexof(['26 K','50 K'], datum.label) >= 0 ? '#3DC43D' : indexof(['18 K','30 K'], datum.label) >= 0 ? '#2BA6F0' : '#1E1ED2'"}}}
         }},
        {"data": {"values": [{"x": 1.5, "y": 0.6, "t": "x = 0.2"}]}, "mark": {"type": "text", "fontSize": 12, "baseline": "bottom", "dy": -4},
         "encoding": {"x": {"field": "x", "type": "quantitative"}, "y": {"field": "y", "type": "quantitative"}, "text": {"field": "t", "type": "nominal"}}}
      ]},
     {"width": 133, "height": 267,
      "title": {"text": "d", "anchor": "start", "frame": "group", "dx": -51, "offset": 11, "baseline": "alphabetic", "fontSize": 18, "fontWeight": "bold"},
      "layer": [
        {"data": {"name": "bd"}, "mark": {"type": "rule", "color": "#9a9a9a", "strokeWidth": 1},
         "encoding": {"x": {"field": "start", "type": "quantitative"}, "x2": {"field": "end"}, "y": {"field": "base", "type": "quantitative"}}},
        {"data": {"name": "cd"}, "transform": [{"lookup": "T", "from": {"data": {"name": "bd"}, "key": "T", "fields": ["base", "s0", "s1"]}}, {"filter": "datum.H >= datum.s0 && datum.H <= datum.s1"}],
         "mark": {"type": "area", "opacity": 0.22},
         "encoding": {"x": {"field": "H", "type": "quantitative"}, "y": {"field": "v", "type": "quantitative"}, "y2": {"field": "base"}, "color": {"field": "T", "type": "nominal", "legend": null}}},
        {"data": {"name": "cd"}, "mark": {"type": "line", "strokeWidth": 3.2},
         "encoding": {
           "x": {"field": "H", "type": "quantitative", "scale": {"domain": [0, 3], "nice": false}, "axis": {"title": "μ₀H (T)", "values": [0, 0.5, 1, 1.5, 2, 2.5, 3], "labelExpr": "datum.value % 1 == 0 ? format(datum.value, '.1f') : ''"}},
           "y": {"field": "v", "type": "quantitative", "scale": {"domain": [0, 0.3], "nice": false}, "axis": {"title": "ρyxᵀ (μΩ cm)", "values": [0, 0.05, 0.1, 0.15, 0.2, 0.25, 0.3], "format": ".2f"}},
           "color": {"field": "T", "type": "nominal", "sort": null, "scale": {"domain": ["38 K", "34 K", "26 K", "18 K", "10 K"], "range": ["#F7A823", "#1A8C1A", "#3DC43D", "#2BA6F0", "#1E1ED2"]}, "legend": null}
         }},
        {"data": {"name": "md"}, "transform": [{"filter": "datum.k == 'r'"}], "mark": {"type": "rule", "color": "#E8141C", "strokeWidth": 2, "strokeDash": [2, 1.5]},
         "encoding": {"x": {"field": "H", "type": "quantitative"}, "y": {"field": "y1", "type": "quantitative"}, "y2": {"field": "y2"}}},
        {"data": {"name": "md"}, "transform": [{"filter": "datum.k == 'p'"}], "mark": {"type": "rule", "color": "#7B3FC4", "strokeWidth": 1.5, "strokeDash": [2, 1.5]},
         "encoding": {"x": {"field": "H", "type": "quantitative"}, "y": {"field": "y1", "type": "quantitative"}, "y2": {"field": "y2"}}},
        {"data": {"name": "ad"}, "mark": {"type": "rule", "color": "black", "strokeWidth": 1.3},
         "encoding": {"x": {"field": "a0", "type": "quantitative"}, "x2": {"field": "a1"}, "y": {"field": "y", "type": "quantitative"}}},
        {"data": {"name": "ad"}, "mark": {"type": "point", "shape": "triangle-left", "filled": true, "color": "black", "size": 28, "opacity": 1},
         "encoding": {"x": {"field": "a0", "type": "quantitative"}, "y": {"field": "y", "type": "quantitative"}}},
        {"data": {"name": "ad"}, "mark": {"type": "point", "shape": "triangle-right", "filled": true, "color": "black", "size": 28, "opacity": 1},
         "encoding": {"x": {"field": "a1", "type": "quantitative"}, "y": {"field": "y", "type": "quantitative"}}},
        {"data": {"name": "bd"}, "mark": {"type": "text", "fontSize": 11.5, "align": "right", "baseline": "middle", "dy": -17},
         "encoding": {"x": {"field": "end", "type": "quantitative"}, "y": {"field": "base", "type": "quantitative"}, "text": {"field": "T", "type": "nominal"}, "color": {"field": "T", "type": "nominal", "legend": null}}}
      ]}
   ], "spacing": 77, "bounds": "flush", "resolve": {"scale": {"color": "independent"}}},
   {"vconcat": [
     {"width": 134, "height": 133,
      "title": {"text": "b", "anchor": "start", "frame": "group", "dx": -21, "offset": -24, "baseline": "alphabetic", "fontSize": 18, "fontWeight": "bold"},
      "layer": [
        {"data": {"name": "cb"}, "mark": {"type": "line", "strokeWidth": 1.8},
         "encoding": {
           "x": {"field": "H", "type": "quantitative", "scale": {"domain": [0, 16], "nice": false}, "axis": {"title": "μ₀H (T)", "values": [0, 2, 4, 6, 8, 10, 12, 14, 16], "labelExpr": "datum.value % 4 == 0 ? datum.label : ''"}},
           "y": {"field": "v", "type": "quantitative", "scale": {"domain": [0, 5], "nice": false}, "axis": {"title": null, "values": [0, 0.5, 1, 1.5, 2, 2.5, 3, 3.5, 4, 4.5, 5], "labelExpr": "datum.value % 1 == 0 ? format(datum.value, '.1f') : ''"}},
           "color": {"field": "T", "type": "nominal", "sort": null, "scale": {"domain": ["100 K", "60 K", "50 K", "30 K", "10 K"], "range": ["#F7A823", "#1A8C1A", "#3DC43D", "#2BA6F0", "#1E1ED2"]},
             "legend": {"orient": "top-right", "title": null, "offset": 12, "padding": 0, "rowPadding": 0.3, "labelFontSize": 11.5, "labelOffset": 0, "symbolSize": 0, "symbolOpacity": 0, "symbolStrokeWidth": 0,
               "labelColor": {"expr": "indexof(['38 K','100 K'], datum.label) >= 0 ? '#F7A823' : indexof(['34 K','60 K','70 K'], datum.label) >= 0 ? '#1A8C1A' : indexof(['26 K','50 K'], datum.label) >= 0 ? '#3DC43D' : indexof(['18 K','30 K'], datum.label) >= 0 ? '#2BA6F0' : '#1E1ED2'"}}}
         }},
        {"data": {"values": [{"x": 8, "y": 5, "t": "x = 0.6"}]}, "mark": {"type": "text", "fontSize": 12, "baseline": "bottom", "dy": -5},
         "encoding": {"x": {"field": "x", "type": "quantitative"}, "y": {"field": "y", "type": "quantitative"}, "text": {"field": "t", "type": "nominal"}}}
      ]},
     {"width": 134, "height": 267,
      "title": {"text": "e", "anchor": "start", "frame": "group", "dx": -22, "offset": 11, "baseline": "alphabetic", "fontSize": 18, "fontWeight": "bold"},
      "layer": [
        {"data": {"name": "be"}, "mark": {"type": "rule", "color": "#9a9a9a", "strokeWidth": 1},
         "encoding": {"x": {"field": "start", "type": "quantitative"}, "x2": {"field": "end"}, "y": {"field": "base", "type": "quantitative"}}},
        {"data": {"name": "ce"}, "transform": [{"lookup": "T", "from": {"data": {"name": "be"}, "key": "T", "fields": ["base", "s0", "s1"]}}, {"filter": "datum.H >= datum.s0 && datum.H <= datum.s1"}],
         "mark": {"type": "area", "opacity": 0.22},
         "encoding": {"x": {"field": "H", "type": "quantitative"}, "y": {"field": "v", "type": "quantitative"}, "y2": {"field": "base"}, "color": {"field": "T", "type": "nominal", "legend": null}}},
        {"data": {"name": "ce"}, "mark": {"type": "line", "strokeWidth": 3.2},
         "encoding": {
           "x": {"field": "H", "type": "quantitative", "scale": {"domain": [0, 16], "nice": false}, "axis": {"title": "μ₀H (T)", "values": [0, 2, 4, 6, 8, 10, 12, 14, 16], "labelExpr": "datum.value % 4 == 0 ? datum.label : ''"}},
           "y": {"field": "v", "type": "quantitative", "scale": {"domain": [0, 2.5], "nice": false}, "axis": {"title": null, "values": [0, 0.5, 1, 1.5, 2, 2.5], "format": ".1f"}},
           "color": {"field": "T", "type": "nominal", "sort": null, "scale": {"domain": ["100 K", "60 K", "50 K", "30 K", "10 K"], "range": ["#F7A823", "#1A8C1A", "#3DC43D", "#2BA6F0", "#1E1ED2"]}, "legend": null}
         }},
        {"data": {"name": "be"}, "mark": {"type": "text", "fontSize": 11.5, "align": "right", "baseline": "middle"},
         "encoding": {"x": {"field": "lx", "type": "quantitative"}, "y": {"field": "ly", "type": "quantitative"}, "text": {"field": "T", "type": "nominal"}, "color": {"field": "T", "type": "nominal", "legend": null}}}
      ]}
   ], "spacing": 77, "bounds": "flush", "resolve": {"scale": {"color": "independent"}}},
   {"vconcat": [
     {"width": 134, "height": 133,
      "title": {"text": "c", "anchor": "start", "frame": "group", "dx": -21, "offset": -24, "baseline": "alphabetic", "fontSize": 18, "fontWeight": "bold"},
      "layer": [
        {"data": {"name": "cc"}, "mark": {"type": "line", "strokeWidth": 2},
         "encoding": {
           "x": {"field": "H", "type": "quantitative", "scale": {"domain": [0, 40], "nice": false}, "axis": {"title": "μ₀H (T)", "values": [0, 5, 10, 15, 20, 25, 30, 35, 40], "labelExpr": "datum.value % 10 == 0 ? datum.label : ''"}},
           "y": {"field": "v", "type": "quantitative", "scale": {"domain": [0, 5], "nice": false}, "axis": {"title": null, "values": [0, 0.5, 1, 1.5, 2, 2.5, 3, 3.5, 4, 4.5, 5], "labelExpr": "datum.value % 1 == 0 ? format(datum.value, '.1f') : ''"}},
           "color": {"field": "T", "type": "nominal", "sort": null, "scale": {"domain": ["100 K", "70 K", "50 K", "30 K", "10 K"], "range": ["#F7A823", "#1A8C1A", "#3DC43D", "#2BA6F0", "#1E1ED2"]},
             "legend": {"orient": "top-right", "title": null, "offset": 12, "padding": 0, "rowPadding": 0.3, "labelFontSize": 11.5, "labelOffset": 0, "symbolSize": 0, "symbolOpacity": 0, "symbolStrokeWidth": 0,
               "labelColor": {"expr": "indexof(['38 K','100 K'], datum.label) >= 0 ? '#F7A823' : indexof(['34 K','60 K','70 K'], datum.label) >= 0 ? '#1A8C1A' : indexof(['26 K','50 K'], datum.label) >= 0 ? '#3DC43D' : indexof(['18 K','30 K'], datum.label) >= 0 ? '#2BA6F0' : '#1E1ED2'"}}}
         }},
        {"data": {"values": [{"x": 20, "y": 5, "t": "x = 0.8"}]}, "mark": {"type": "text", "fontSize": 12, "baseline": "bottom", "dy": -7},
         "encoding": {"x": {"field": "x", "type": "quantitative"}, "y": {"field": "y", "type": "quantitative"}, "text": {"field": "t", "type": "nominal"}}}
      ]},
     {"width": 134, "height": 267,
      "title": {"text": "f", "anchor": "start", "frame": "group", "dx": -22, "offset": 11, "baseline": "alphabetic", "fontSize": 18, "fontWeight": "bold"},
      "layer": [
        {"data": {"name": "bf"}, "mark": {"type": "rule", "color": "#9a9a9a", "strokeWidth": 1},
         "encoding": {"x": {"field": "start", "type": "quantitative"}, "x2": {"field": "end"}, "y": {"field": "base", "type": "quantitative"}}},
        {"data": {"name": "cf"}, "transform": [{"lookup": "T", "from": {"data": {"name": "bf"}, "key": "T", "fields": ["base", "s0", "s1"]}}, {"filter": "datum.H >= datum.s0 && datum.H <= datum.s1"}],
         "mark": {"type": "area", "opacity": 0.22},
         "encoding": {"x": {"field": "H", "type": "quantitative"}, "y": {"field": "v", "type": "quantitative"}, "y2": {"field": "base"}, "color": {"field": "T", "type": "nominal", "legend": null}}},
        {"data": {"name": "cf"}, "mark": {"type": "line", "strokeWidth": 5},
         "encoding": {
           "x": {"field": "H", "type": "quantitative", "scale": {"domain": [0, 40], "nice": false}, "axis": {"title": "μ₀H (T)", "values": [0, 5, 10, 15, 20, 25, 30, 35, 40], "labelExpr": "datum.value % 10 == 0 ? datum.label : ''"}},
           "y": {"field": "v", "type": "quantitative", "scale": {"domain": [0, 5], "nice": false}, "axis": {"title": null, "values": [0, 0.5, 1, 1.5, 2, 2.5, 3, 3.5, 4, 4.5, 5], "format": ".1f"}},
           "color": {"field": "T", "type": "nominal", "sort": null, "scale": {"domain": ["100 K", "70 K", "50 K", "30 K", "10 K"], "range": ["#F7A823", "#1A8C1A", "#3DC43D", "#2BA6F0", "#1E1ED2"]}, "legend": null}
         }},
        {"data": {"name": "bf"}, "mark": {"type": "text", "fontSize": 11.5, "align": "right", "baseline": "middle"},
         "encoding": {"x": {"field": "lx", "type": "quantitative"}, "y": {"field": "ly", "type": "quantitative"}, "text": {"field": "T", "type": "nominal"}, "color": {"field": "T", "type": "nominal", "legend": null}}}
      ]}
   ], "spacing": 77, "bounds": "flush", "resolve": {"scale": {"color": "independent"}}}
 ], "spacing": 17.5, "resolve": {"scale": {"color": "independent"}}},
 {"vconcat": [
   {"width": 153, "height": 122,
    "title": {"text": "g", "anchor": "start", "frame": "group", "dx": -41, "offset": -16, "baseline": "alphabetic", "fontSize": 18, "fontWeight": "bold"},
    "layer": [
      {"data": {"name": "hg"}, "mark": {"type": "rect", "width": 11.4, "height": 12.5, "clip": true},
       "encoding": {
         "x": {"field": "T", "type": "quantitative", "scale": {"domain": [0, 41.4], "nice": false}, "axis": {"title": "T (K)", "values": [0, 10, 20, 30, 40]}},
         "y": {"field": "H", "type": "quantitative", "scale": {"domain": [0, 2], "nice": false}, "axis": {"title": "μ₀H (T)", "values": [0, 0.5, 1, 1.5, 2], "format": ".1f"}},
         "color": {"field": "v", "type": "quantitative", "scale": {"domain": [-30, 0, 7], "range": ["#0a0aef", "#ffffff", "#ffbfbf"], "interpolate": "rgb"},
           "legend": {"title": "ρyxᵀ (nΩ cm)", "orient": "top-right", "direction": "horizontal", "gradientLength": 51, "gradientThickness": 8, "values": [-25, 0], "labelFontSize": 11, "titleFontSize": 12, "titleFontWeight": "normal", "offset": 8, "padding": 0, "labelOffset": -24, "titlePadding": 17, "gradientStrokeColor": "#555", "gradientStrokeWidth": 0.8}}
       }},
      {"data": {"name": "lg"}, "mark": {"type": "line", "strokeWidth": 1, "point": {"filled": true, "size": 26}},
       "encoding": {"x": {"field": "T", "type": "quantitative"}, "y": {"field": "H", "type": "quantitative"},
         "color": {"field": "c", "type": "nominal", "scale": {"domain": ["k", "p", "r"], "range": ["#000000", "#8B2BD6", "#E8141C"]}, "legend": null}}},
      {"data": {"values": [{"x": 7.4, "y": 1.54, "t": "x = 0.2"}]}, "mark": {"type": "text", "fontSize": 12},
       "encoding": {"x": {"field": "x", "type": "quantitative"}, "y": {"field": "y", "type": "quantitative"}, "text": {"field": "t", "type": "nominal"}}}
    ],
    "resolve": {"scale": {"color": "independent"}}},
   {"width": 153, "height": 121,
    "title": {"text": "h", "anchor": "start", "frame": "group", "dx": -49, "offset": -13, "baseline": "alphabetic", "fontSize": 18, "fontWeight": "bold"},
    "layer": [
      {"data": {"name": "hh"}, "mark": {"type": "rect", "width": 7.9, "height": 12.4, "clip": true},
       "encoding": {
         "x": {"field": "T", "type": "quantitative", "scale": {"domain": [0, 200], "nice": false}, "axis": {"title": "T (K)", "values": [0, 50, 100, 150, 200]}},
         "y": {"field": "H", "type": "quantitative", "scale": {"domain": [0, 25], "nice": false}, "axis": {"title": "μ₀H (T)", "values": [0, 5, 10, 15, 20, 25]}},
         "color": {"field": "v", "type": "quantitative", "scale": {"domain": [-1.3, 0, 1.3], "range": ["#1010ff", "#ffffff", "#dd0d0d"], "interpolate": "rgb"},
           "legend": {"title": "ρyxᵀ (μΩ cm)", "orient": "top-right", "direction": "horizontal", "gradientLength": 54, "gradientThickness": 8, "values": [-1, 0, 1], "format": ".1f", "labelFontSize": 10, "titleFontSize": 12, "titleFontWeight": "normal", "offset": 12, "padding": 0, "labelOffset": -23, "titlePadding": 16, "gradientStrokeColor": "#555", "gradientStrokeWidth": 0.8}}
       }},
      {"data": {"name": "lh"}, "mark": {"type": "line", "strokeWidth": 1, "color": "black", "point": {"filled": true, "size": 26, "color": "black"}},
       "encoding": {"x": {"field": "T", "type": "quantitative"}, "y": {"field": "H", "type": "quantitative"}}},
      {"data": {"values": [{"x": 34, "y": 16.7, "t": "x = 0.6"}]}, "mark": {"type": "text", "fontSize": 12},
       "encoding": {"x": {"field": "x", "type": "quantitative"}, "y": {"field": "y", "type": "quantitative"}, "text": {"field": "t", "type": "nominal"}}}
    ]},
   {"width": 153, "height": 123,
    "title": {"text": "i", "anchor": "start", "frame": "group", "dx": -49, "offset": -13, "baseline": "alphabetic", "fontSize": 18, "fontWeight": "bold"},
    "layer": [
      {"data": {"name": "hi"}, "mark": {"type": "rect", "width": 7.9, "height": 12.6, "clip": true},
       "encoding": {
         "x": {"field": "T", "type": "quantitative", "scale": {"domain": [0, 200], "nice": false}, "axis": {"title": "T (K)", "values": [0, 50, 100, 150, 200]}},
         "y": {"field": "H", "type": "quantitative", "scale": {"domain": [0, 25], "nice": false}, "axis": {"title": "μ₀H (T)", "values": [0, 5, 10, 15, 20, 25]}},
         "color": {"field": "v", "type": "quantitative", "scale": {"domain": [-1.3, 0, 1.3], "range": ["#1010ff", "#ffffff", "#dd0d0d"], "interpolate": "rgb"},
           "legend": {"title": "ρyxᵀ (μΩ cm)", "orient": "top-right", "direction": "horizontal", "gradientLength": 54, "gradientThickness": 8, "values": [-1, 0, 1], "format": ".1f", "labelFontSize": 10, "titleFontSize": 12, "titleFontWeight": "normal", "offset": 12, "padding": 0, "labelOffset": -23, "titlePadding": 16, "gradientStrokeColor": "#555", "gradientStrokeWidth": 0.8}}
       }},
      {"data": {"name": "li"}, "mark": {"type": "line", "strokeWidth": 1, "color": "black", "point": {"filled": true, "size": 26, "color": "black"}},
       "encoding": {"x": {"field": "T", "type": "quantitative"}, "y": {"field": "H", "type": "quantitative"}}},
      {"data": {"values": [{"x": 135, "y": 8.8, "t": "x = 0.8"}]}, "mark": {"type": "text", "fontSize": 12},
       "encoding": {"x": {"field": "x", "type": "quantitative"}, "y": {"field": "y", "type": "quantitative"}, "text": {"field": "t", "type": "nominal"}}}
    ]}
 ], "spacing": 60, "bounds": "flush", "resolve": {"scale": {"color": "independent"}}}
],
"spacing": 13,
"resolve": {"scale": {"color": "independent"}}
}
